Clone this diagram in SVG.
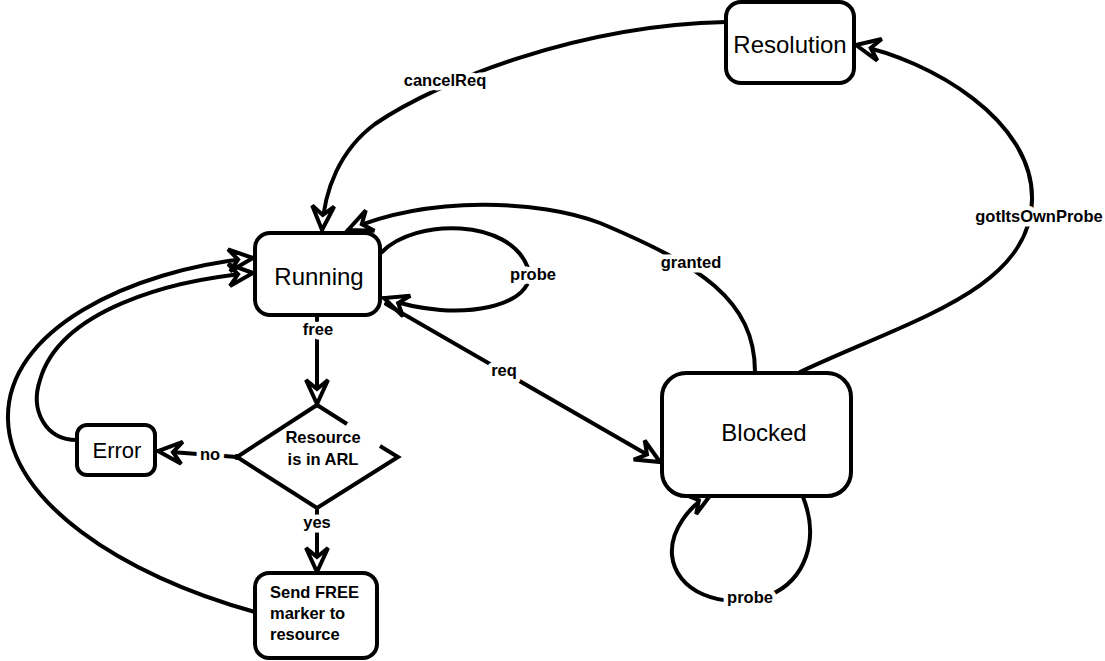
<svg xmlns="http://www.w3.org/2000/svg" width="1105" height="661" viewBox="0 0 1105 661">
  <style>
    .node { fill: #fff; stroke: #000; stroke-width: 4; }
    .edge { fill: none; stroke: #000; stroke-width: 4; stroke-linecap: round; }
    .title { font-family: "Liberation Sans", Arial, sans-serif; font-size: 24px; fill: #000; text-anchor: middle; }
    .small { font-family: "Liberation Sans", Arial, sans-serif; font-size: 16.5px; font-weight: bold; fill: #000; }
    .lbl { font-family: "Liberation Sans", Arial, sans-serif; font-size: 16.5px; font-weight: bold; fill: #000;
           stroke: #fff; stroke-width: 9; stroke-linejoin: round; paint-order: stroke; text-anchor: middle; }
  </style>
  <defs>
    <marker id="arr" viewBox="-30 -16 34 32" refX="0" refY="0" markerWidth="34" markerHeight="32"
            markerUnits="userSpaceOnUse" orient="auto" overflow="visible">
      <path d="M0,0 L-24,-11 L-15,0 L-24,11 Z" fill="#fff" stroke="#000" stroke-width="4" stroke-linejoin="miter"/>
    </marker>
  </defs>
  <rect width="1105" height="661" fill="#fff"/>

  <!-- transitions -->
  <g id="connectors">
    <!-- cancelReq: Resolution -> Running -->
    <path class="edge" d="M726,22 C580,25 440,80 375,124 C340,150 324,190 322,230" marker-end="url(#arr)"/>
    <!-- granted: Blocked -> Running -->
    <path class="edge" d="M755,372 C755,300 700,265 600,223 C540,200 430,195 348,230" marker-end="url(#arr)"/>
    <!-- gotItsOwnProbe: Blocked -> Resolution -->
    <path class="edge" d="M800,372 C910,320 1030,290 1032,200 C1034,120 930,60 856,45" marker-end="url(#arr)"/>
    <!-- probe self-loop on Running -->
    <path class="edge" d="M382,252 C415,218 510,218 528,268 C540,305 460,325 384,298" marker-end="url(#arr)"/>
    <!-- req: Running -> Blocked -->
    <path class="edge" d="M386,304 L660,462" marker-end="url(#arr)"/>
    <!-- free: Running -> decision -->
    <path class="edge" d="M317,316 L317,404" marker-end="url(#arr)"/>
    <!-- no: decision -> Error -->
    <path class="edge" d="M237,457 L158,451" marker-end="url(#arr)"/>
    <circle cx="237" cy="457" r="3" fill="#000"/>
    <!-- yes: decision -> Send FREE -->
    <path class="edge" d="M317,510 L317,572" marker-end="url(#arr)"/>
    <!-- Error -> Running -->
    <path class="edge" d="M77,440 C45,440 30,410 40,380 C60,310 170,280 253,273" marker-end="url(#arr)"/>
    <!-- Send FREE -> Running -->
    <path class="edge" d="M255,612 C120,575 10,500 8,420 C5,330 130,270 253,258" marker-end="url(#arr)"/>
    <!-- probe self-loop on Blocked -->
    <path class="edge" d="M803,497 C820,540 805,580 770,595 C720,612 675,590 672,555 C670,530 690,505 712,493" marker-end="url(#arr)"/>

    <text class="lbl" x="445" y="86">cancelReq</text>
    <text class="lbl" x="691" y="268">granted</text>
    <text class="lbl" x="1039" y="222">gotItsOwnProbe</text>
    <text class="lbl" x="533" y="280">probe</text>
    <text class="lbl" x="504" y="376">req</text>
    <text class="lbl" x="318" y="335">free</text>
    <text class="lbl" x="210" y="460">no</text>
    <text class="lbl" x="317" y="528">yes</text>
    <text class="lbl" x="750" y="603">probe</text>
  </g>

  <g id="resolution">
    <rect class="node" x="726" y="2" width="128" height="81" rx="15"/>
    <text class="title" x="790" y="53">Resolution</text>
  </g>

  <g id="running">
    <rect class="node" x="255" y="233" width="125" height="82" rx="15"/>
    <text class="title" x="319" y="285">Running</text>
  </g>

  <g id="blocked">
    <rect class="node" x="662" y="373" width="189" height="123" rx="24"/>
    <text class="title" x="764" y="441">Blocked</text>
  </g>

  <g id="error">
    <rect class="node" x="77" y="425" width="78" height="50" rx="10"/>
    <text class="title" x="117" y="458" style="font-size:22px">Error</text>
  </g>

  <g id="decision">
    <path fill="none" stroke="#000" stroke-width="4" stroke-linejoin="miter"
          d="M347,424 L317,405 L237,457 L317,508 L398,457 L380,446"/>
    <text class="small" x="323" y="443" text-anchor="middle">Resource</text>
    <text class="small" x="323" y="465" text-anchor="middle">is in ARL</text>
  </g>

  <g id="send-free">
    <rect class="node" x="255" y="573" width="122" height="85" rx="14"/>
    <text class="small" x="270" y="598">Send FREE</text>
    <text class="small" x="270" y="619">marker to</text>
    <text class="small" x="270" y="640">resource</text>
  </g>
</svg>
